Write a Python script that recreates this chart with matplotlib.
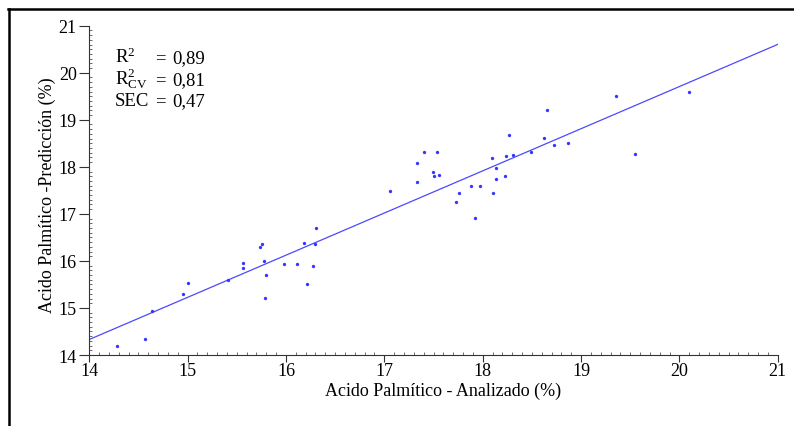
import matplotlib
matplotlib.use('Agg')
import matplotlib.pyplot as plt
from matplotlib.lines import Line2D
from matplotlib.ticker import MultipleLocator

plt.rcParams['font.family'] = ['Liberation Serif', 'DejaVu Serif']
plt.rcParams['mathtext.fontset'] = 'custom'
plt.rcParams['mathtext.rm'] = 'Liberation Serif'
plt.rcParams['mathtext.it'] = 'Liberation Serif:italic'
plt.rcParams['mathtext.bf'] = 'Liberation Serif:bold'

# Palmitic acid: reference (analysed) vs NIR predicted values, %
analizado = [14.28, 14.57, 14.64, 14.95, 15.00, 15.41, 15.56, 15.56, 15.74, 15.76,
             15.78, 15.80, 15.79, 15.98, 16.11, 16.18, 16.21, 16.27, 16.30, 16.31,
             17.06, 17.33, 17.33, 17.40, 17.49, 17.51, 17.54, 17.56, 17.73, 17.76,
             17.88, 17.92, 17.97, 18.09, 18.11, 18.14, 18.14, 18.23, 18.24, 18.27,
             18.31, 18.49, 18.62, 18.65, 18.73, 18.87, 19.36, 19.55, 20.10]
prediccion = [14.19, 14.34, 14.93, 15.30, 15.53, 15.60, 15.96, 15.86, 16.30, 16.37,
              16.00, 15.71, 15.22, 15.94, 15.93, 16.39, 15.50, 15.89, 16.37, 16.70,
              17.48, 18.08, 17.67, 18.32, 17.90, 17.81, 18.32, 17.83, 17.26, 17.44,
              17.60, 16.91, 17.59, 18.19, 17.44, 17.98, 17.74, 17.80, 18.24, 18.68,
              18.25, 18.32, 18.62, 19.21, 18.47, 18.51, 19.51, 18.28, 19.60]

# calibration line: slope, intercept
fit_slope = 0.896
fit_intercept = 1.786

stats_names = [r'$\mathrm{R}^2$', r'$\mathrm{R}^2_{\mathrm{CV}}$', 'SEC']
stats_values = ['0,89', '0,81', '0,47']

W, H = 794, 427
fig = plt.figure(figsize=(W / 100, H / 100), dpi=100)
fig.patch.set_facecolor('white')

# page frame (top and left edges only)
fig.add_artist(Line2D([8 / W, 1], [1 - 10 / H, 1 - 10 / H], color='black', lw=1.8))
fig.add_artist(Line2D([9 / W, 9 / W], [0, 1 - 10 / H], color='black', lw=1.8))

ax = fig.add_axes([89.3 / W, 1 - 356 / H, 688.4 / W, 329.3 / H])
ax.set_xlim(14, 21)
ax.set_ylim(14, 21)

ax.axline((0, fit_intercept), slope=fit_slope, color='#4a4aff', lw=0.9)
ax.plot(analizado, prediccion, linestyle='none', marker='o', markersize=2.4,
        color='#3535ff', markeredgewidth=0)

for side in ['top', 'right']:
    ax.spines[side].set_visible(False)
for side in ['left', 'bottom']:
    ax.spines[side].set_linewidth(0.8)
    ax.spines[side].set_color('#333333')

ax.xaxis.set_major_locator(MultipleLocator(1))
ax.yaxis.set_major_locator(MultipleLocator(1))
ax.xaxis.set_minor_locator(MultipleLocator(0.1))
ax.yaxis.set_minor_locator(MultipleLocator(0.1))
ax.tick_params(which='major', direction='out', length=5, width=0.8, color='#333333',
               labelsize=13, pad=0)
ax.tick_params(which='minor', direction='in', length=2.5, width=0.6, color='#555555')
ax.tick_params(axis='y', which='major', length=7, pad=2)

ax.set_xlabel('Acido Palmítico - Analizado (%)', fontsize=13)
ax.set_ylabel('Acido Palmítico -Predicción (%)', fontsize=13)
ax.xaxis.set_label_coords(0.514, -0.080)
ax.yaxis.set_label_coords(-0.049, 0.489)

# statistics block
rows_y = [0.890, 0.823, 0.759]
for name, val, yy in zip(stats_names, stats_values, rows_y):
    ax.text(0.0373, yy, name, transform=ax.transAxes, fontsize=13.5, va='baseline', ha='left')
    ax.text(0.095, yy, '=', transform=ax.transAxes, fontsize=13.5, va='baseline', ha='left')
    ax.text(0.120, yy, val, transform=ax.transAxes, fontsize=13.5, va='baseline', ha='left')

fig.savefig('out.png', dpi=100, facecolor='white')
